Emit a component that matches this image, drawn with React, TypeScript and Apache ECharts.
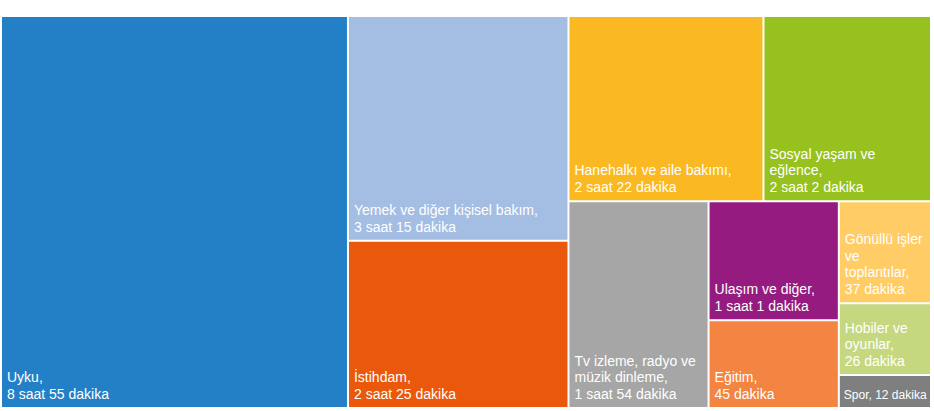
import { useEffect, useRef } from "react";
import * as echarts from "echarts";

// günlük ortalama süreler (dakika)
const categories = [
  "Uyku",
  "Yemek ve diğer kişisel bakım",
  "İstihdam",
  "Hanehalkı ve aile bakımı",
  "Sosyal yaşam ve eğlence",
  "Tv izleme, radyo ve müzik dinleme",
  "Ulaşım ve diğer",
  "Eğitim",
  "Gönüllü işler ve toplantılar",
  "Hobiler ve oyunlar",
  "Spor",
];
const minutes = [535, 195, 145, 142, 122, 114, 61, 45, 37, 26, 12];
const labels = [
  "Uyku,\n8 saat 55 dakika",
  "Yemek ve diğer kişisel bakım,\n3 saat 15 dakika",
  "İstihdam,\n2 saat 25 dakika",
  "Hanehalkı ve aile bakımı,\n2 saat 22 dakika",
  "Sosyal yaşam ve\neğlence,\n2 saat 2 dakika",
  "Tv izleme, radyo ve\nmüzik dinleme,\n1 saat 54 dakika",
  "Ulaşım ve diğer,\n1 saat 1 dakika",
  "Eğitim,\n45 dakika",
  "Gönüllü işler\nve\ntoplantılar,\n37 dakika",
  "Hobiler ve\noyunlar,\n26 dakika",
  "Spor, 12 dakika",
];
const colors = [
  "#2480C6",
  "#A4BDE3",
  "#EA580C",
  "#FAB922",
  "#96C11F",
  "#A6A6A6",
  "#951B81",
  "#F38441",
  "#FFCC66",
  "#C5D880",
  "#7F7F7F",
];

// kutuların gruplanışı (indeksler), Excel'deki yerleşime yakın olsun diye
type Tree = number | Tree[];
const grouping: Tree[] = [0, [1, 2], [[3, 4], [5, [6, 7], [8, 9, 10]]]];

const buildNode = (t: Tree, key: string): any => {
  if (typeof t === "number") {
    const small = categories[t] === "Spor";
    return {
      name: categories[t],
      value: minutes[t],
      itemStyle: { color: colors[t] },
      label: {
        formatter: labels[t],
        fontSize: small ? 12 : 14,
        padding: small ? [0, 2, 4, 4] : [0, 5, 5, 5],
      },
    };
  }
  const children = t.map((c, i) => buildNode(c, key + "-" + i));
  return {
    name: key,
    value: children.reduce((s: number, c: any) => s + c.value, 0),
    children,
  };
};

const App = () => {
  const chartRef = useRef<HTMLDivElement>(null);

  useEffect(() => {
    if (!chartRef.current) return;
    document.body.style.margin = "0";

    const chart = echarts.init(chartRef.current, undefined, { renderer: "svg" });

    const data = grouping.map((t, i) => buildNode(t, "g" + i));
    const levelStyle = { itemStyle: { borderWidth: 0, gapWidth: 2, borderColor: "#fff" } };

    const option: echarts.EChartsOption = {
      animation: false,
      series: [
        {
          type: "treemap",
          left: 2,
          top: 17,
          width: 928,
          height: 390,
          roam: false,
          nodeClick: false,
          sort: false,
          squareRatio: 1,
          breadcrumb: { show: false },
          label: {
            show: true,
            position: "insideBottomLeft",
            color: "#fff",
            fontFamily: "Liberation Sans, Arial, sans-serif",
            fontSize: 14,
            lineHeight: 16.5,
            overflow: "none",
          },
          upperLabel: { show: false },
          itemStyle: { borderWidth: 0, gapWidth: 2, borderColor: "#fff" },
          levels: [levelStyle, levelStyle, levelStyle, levelStyle, levelStyle],
          data,
        },
      ],
    };

    chart.setOption(option);

    return () => {
      chart.dispose();
    };
  }, []);

  return <div ref={chartRef} style={{ width: "934px", height: "411px" }} />;
};

export default App;
